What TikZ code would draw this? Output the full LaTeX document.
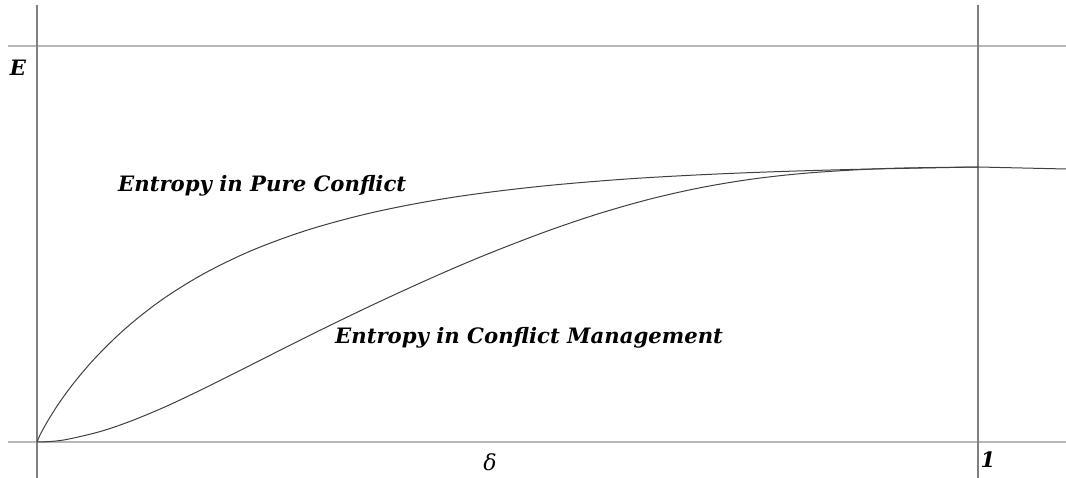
\documentclass[tikz,border=0pt]{standalone}
\usepackage{fontspec}
\setmainfont{DejaVu Serif}
\begin{document}
\begin{tikzpicture}[x=1pt,y=1pt,
  axisv/.style={draw=black!50,line width=1.3pt},
  axish/.style={draw=black!28,line width=1.6pt},
  curve/.style={draw=black!75,line width=1pt},
  lbl/.style={font=\fontsize{21.2}{24}\selectfont\bfseries\itshape,inner sep=0pt}]
\useasboundingbox (0,0) rectangle (1066,478);
\fill[white] (0,0) rectangle (1066,478);
% axes
\coordinate (yb) at (37,0); \coordinate (yt) at (37,473);
\coordinate (rb) at (978,0); \coordinate (rt) at (978,473);
\coordinate (tl) at (8,432); \coordinate (tr) at (1066,432);
\coordinate (bl) at (8,36); \coordinate (br) at (1066,36);
\draw[axish] (tl) -- (tr);
\draw[axish] (bl) -- (br);
\draw[axisv] (yb) -- (yt);
\draw[axisv] (rb) -- (rt);
% curves
\coordinate (O) at (37,36);
\coordinate (P) at (978,311);
\coordinate (Q) at (1066,309);
\draw[curve] plot[smooth,tension=0.55] coordinates {
  (37,36) (39.8,42.5) (44.5,51.4) (51.1,62.6) (60.5,77.0) (74.6,96.0)
  (93.5,118.2) (117.0,141.8) (140.5,162.1) (168.7,182.9) (206.4,205.7)
  (253.4,228.2) (309.9,248.7) (375.8,266.2) (451.0,280.4) (535.7,291.2)
  (629.8,299.2) (733.3,304.7) (846.3,308.4) (978,311)}
  -- (Q);
\draw[curve] plot[smooth,tension=0.55] coordinates {
  (37,36) (50,36.5) (67,38.6) (100,46.4) (130,56.6) (165,71.1) (200,87.6)
  (230,102.5) (260,117.6) (295,135.3) (330,152.6) (375,174.2) (420,194.9)
  (460,212.5) (500,228.9) (550,247.9) (600,264.7) (650,278.9) (700,290.2)
  (750,298.6) (800,304.3) (850,307.8) (900,309.9) (978,311)};
% labels
\node[lbl] (E) at (18,410) {E};
\node[lbl,anchor=west] (pure) at (118,292) {Entropy in Pure Conflict};
\node[lbl,anchor=west] (mgmt) at (335,140) {Entropy in Conflict Management};
\node[font=\fontsize{22}{24}\selectfont\itshape,inner sep=0pt] (d) at (490,16) {δ};
\node[lbl] (one) at (988,18) {1};
\end{tikzpicture}
\end{document}
